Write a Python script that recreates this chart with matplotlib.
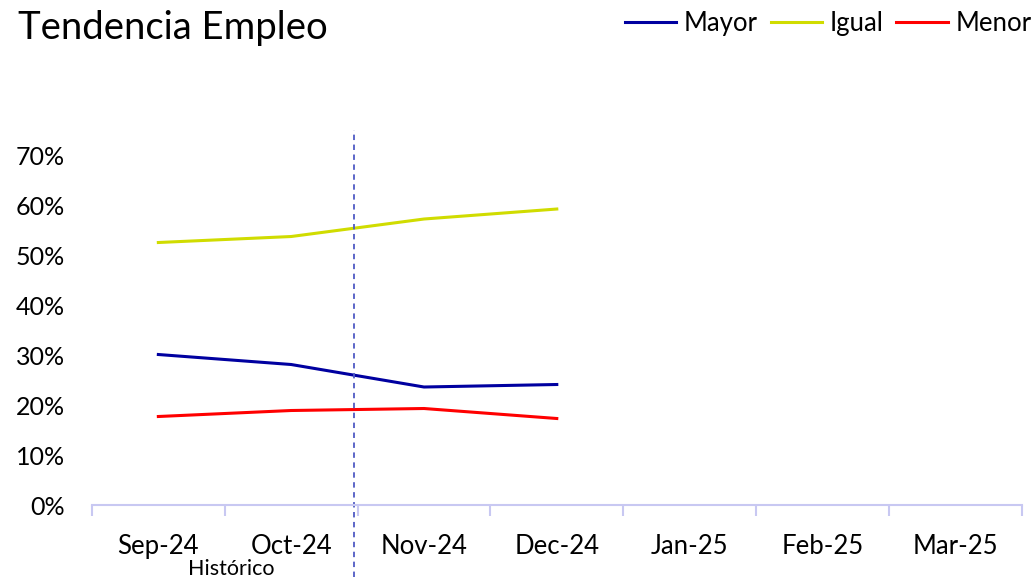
import matplotlib.pyplot as plt
from matplotlib.ticker import PercentFormatter

meses = ['Sep-24', 'Oct-24', 'Nov-24', 'Dec-24', 'Jan-25', 'Feb-25', 'Mar-25']
mayor = [0.301, 0.281, 0.236, 0.241]
igual = [0.525, 0.537, 0.572, 0.592]
menor = [0.177, 0.189, 0.193, 0.173]

plt.rcParams['font.family'] = ['Lato', 'DejaVu Sans']

fig = plt.figure(figsize=(10.33, 5.82), dpi=100)
ax = fig.add_axes([0.089, 0.1323, 0.9, 0.6443])

x = range(len(mayor))
ax.plot(x, mayor, color='#0000A0', lw=2.2, label='Mayor')
ax.plot(x, igual, color='#D0DC00', lw=2.2, label='Igual')
ax.plot(x, menor, color='#FF0000', lw=2.2, label='Menor')

# separacion historico / proyeccion
ax.plot([1.47, 1.47], [-0.145, 0.75], color='#4F5BC4', lw=1.3,
        ls=(0, (3, 2.5)), clip_on=False)

ax.set_xlim(-0.5, len(meses) - 0.5)
ax.set_ylim(0, 0.75)
ax.set_yticks([i / 10 for i in range(8)])
ax.yaxis.set_major_formatter(PercentFormatter(1.0, decimals=0))
ax.set_xticks(range(len(meses)))
ax.set_xticklabels(meses)
ax.set_xticks([i - 0.5 for i in range(len(meses) + 1)], minor=True)

for s in ['top', 'right', 'left']:
    ax.spines[s].set_visible(False)
ax.spines['bottom'].set_color('#C8C8F2')
ax.spines['bottom'].set_linewidth(1.5)
ax.tick_params(axis='y', length=0, labelsize=18, pad=19.5)
ax.tick_params(axis='x', which='major', length=0, labelsize=18.5, pad=21)
ax.tick_params(axis='x', which='minor', length=8, width=1.5, color='#C8C8F2')

ax.text(0.55, -0.129, 'Histórico', ha='center', va='center', fontsize=15.5,
        transform=ax.transData, clip_on=False)

fig.text(0.017, 0.952, 'Tendencia Empleo', fontsize=27.5, va='center', ha='left')
fig.legend(loc='upper right', bbox_to_anchor=(1.021, 1.021), ncol=3, frameon=False,
           fontsize=18.5, handlelength=2.0, handletextpad=0.3, columnspacing=0.5)

fig.savefig('out.png', dpi=100)
